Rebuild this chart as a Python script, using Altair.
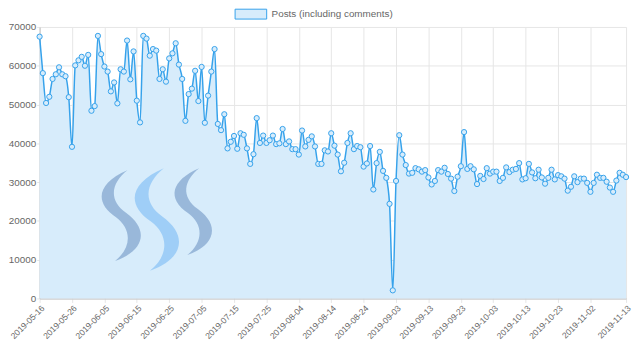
import altair as alt
import pandas as pd

# ---------------- data ----------------
start_date = "2019-05-16"
posts = [
    67500, 58100, 50400, 52000, 56600, 57800, 59600, 57800, 57300, 51900,
    39100, 60100, 61400, 62300, 60000, 62800, 48400, 49600, 67700, 63000,
    59800, 58500, 53400, 55700, 50300, 59100, 58500, 66500, 56500, 63700,
    51000, 45400, 67700, 67000, 62600, 64300, 63900, 56600, 59100, 55900,
    61900, 63200, 65800, 60300, 56600, 45800, 52700, 54100, 58700, 50900,
    59700, 45300, 52300, 58500, 64300, 45000, 43400, 47500, 38700, 40400,
    41900, 38600, 42600, 42200, 38700, 34700, 37200, 46500, 40100, 42000,
    40100, 40800, 42000, 39800, 40000, 43700, 39800, 40500, 38500, 38500,
    37100, 43300, 39200, 40900, 41800, 39200, 34700, 34700, 38200, 37900,
    42600, 39400, 37100, 32800, 35000, 40100, 42600, 38500, 39300, 39000,
    34000, 34800, 39300, 28100, 34900, 37800, 32900, 31100, 24400, 2100,
    30300, 42100, 37100, 34400, 32200, 32400, 33600, 33300, 32700, 33100,
    31200, 29400, 30300, 33100, 32700, 33700, 32100, 30900, 27700, 31400,
    34100, 42900, 33400, 34100, 33300, 29500, 31600, 30800, 33600, 32200,
    32700, 32700, 30300, 31100, 33800, 32600, 33200, 33400, 34900, 30700,
    31000, 34700, 32500, 31000, 33200, 31200, 29600, 31100, 33200, 30700,
    31800, 31500, 30900, 27800, 28800, 31500, 30000, 30900, 30900, 29800,
    27500, 29800, 31900, 31100, 31100, 30100, 28600, 27500, 30400, 32400,
    31900, 31300,
]
dates = pd.date_range(start_date, periods=len(posts), freq="D").strftime("%Y-%m-%d").tolist()
x_tick_labels = [
    "2019-05-16", "2019-05-26", "2019-06-05", "2019-06-15", "2019-06-25",
    "2019-07-05", "2019-07-15", "2019-07-25", "2019-08-04", "2019-08-14",
    "2019-08-24", "2019-09-03", "2019-09-13", "2019-09-23", "2019-10-03",
    "2019-10-13", "2019-10-23", "2019-11-02", "2019-11-13",
]
y_ticks = [0, 10000, 20000, 30000, 40000, 50000, 60000, 70000]
series_label = "Posts (including comments)"

df = pd.DataFrame({"date": dates, "posts": posts})
one = pd.DataFrame({"label": [series_label]})

# ---------------- style ----------------
W, H = 594, 275
LINE = "#36a2eb"
FILL = "#d7ecfb"
GRID = "#e6e6e6"
FONT = "Liberation Sans"

x_enc = alt.X(
    "date:O",
    scale=alt.Scale(type="point", padding=0),
    axis=alt.Axis(
        values=x_tick_labels, title=None, labelAngle=-45, labelAlign="right",
        labelBaseline="top", labelPadding=1, labelFontSize=8.6, labelFont=FONT,
        labelColor="#666666", grid=True, gridColor=GRID, tickColor=GRID,
        tickSize=4, domainColor="#bfbfbf", labelOverlap=False,
    ),
)
y_enc = alt.Y(
    "posts:Q",
    scale=alt.Scale(domain=[0, 70000], nice=False),
    axis=alt.Axis(
        values=y_ticks, format="d", title=None, labelFontSize=10, labelFont=FONT,
        labelColor="#666666", gridColor=GRID, tickColor=GRID, tickSize=3,
        labelPadding=1, domainColor="#bfbfbf",
    ),
)

area = alt.Chart(df).mark_area(interpolate="monotone", color=FILL, opacity=1).encode(x=x_enc, y=y_enc)

# Steem-style watermark swooshes
SWOOSH = ("M0.15,-1 C-0.5,-0.72 -0.6,-0.3 -0.1,0.04 "
          "C0.25,0.3 0.25,0.7 -0.12,1 "
          "C0.55,0.76 0.62,0.3 0.12,-0.06 "
          "C-0.28,-0.35 -0.2,-0.72 0.15,-1 Z")

def swoosh(cx, cy, size, color, op):
    return alt.Chart(one).mark_point(
        shape=SWOOSH, filled=True, fill=color, fillOpacity=op, strokeWidth=0, size=size
    ).encode(x=alt.value(cx), y=alt.value(cy))

logo = (swoosh(82, 191, 8464, "#1a5099", 0.33)
        + swoosh(118, 195, 10816, "#4ba2f2", 0.4)
        + swoosh(155, 187, 7744, "#1a5099", 0.33))

line = alt.Chart(df).mark_line(interpolate="monotone", color=LINE, strokeWidth=1.5).encode(x=x_enc, y=y_enc)
pts = alt.Chart(df).mark_point(
    filled=True, fill=FILL, stroke=LINE, strokeWidth=1, size=28, opacity=1
).encode(x=x_enc, y=y_enc)

leg_box = alt.Chart(one).mark_rect(fill=FILL, stroke=LINE, strokeWidth=1).encode(
    x=alt.value(198), x2=alt.value(230), y=alt.value(-18), y2=alt.value(-8)
)
leg_text = alt.Chart(one).mark_text(
    align="left", baseline="middle", font=FONT, fontSize=10, color="#666666"
).encode(x=alt.value(235), y=alt.value(-13), text="label:N")

chart = (
    alt.layer(area, logo, line, pts, leg_box, leg_text)
    .properties(
        width=W, height=H,
        autosize=alt.AutoSizeParams(type="none"),
        padding={"left": 32, "top": 17, "right": 6, "bottom": 53},
        background="white",
    )
    .configure_view(strokeWidth=0)
)

chart.save("out.html", embed_options={"renderer": "svg", "actions": False})
